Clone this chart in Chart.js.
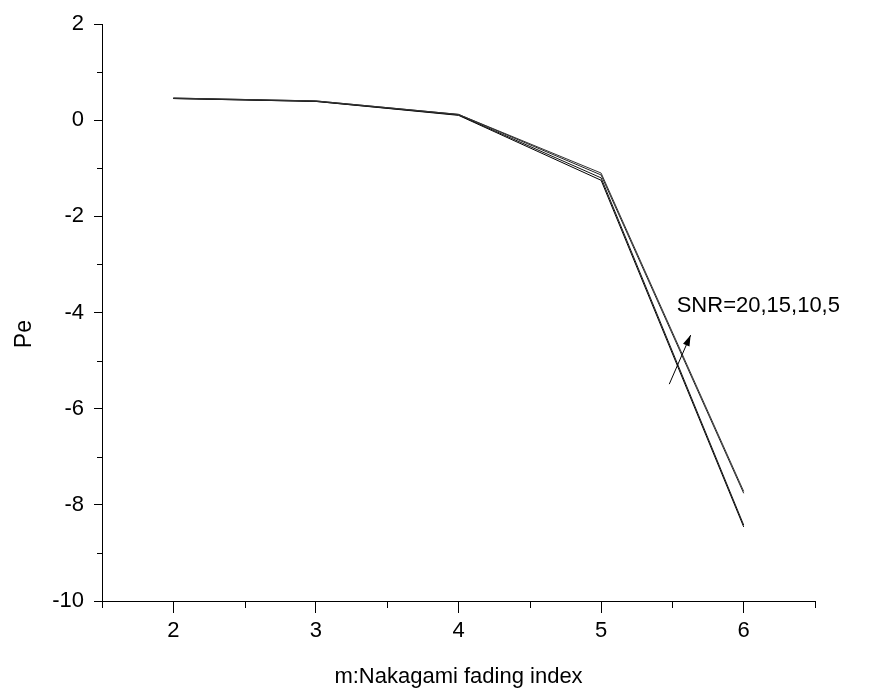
<!DOCTYPE html>
<html>
<head>
<meta charset="utf-8">
<title>Pe vs m</title>
<script src="https://cdn.jsdelivr.net/npm/chart.js@4/dist/chart.umd.min.js"></script>
<style>
body { margin: 0; background: #fff; }
</style>
</head>
<body>
<canvas id="peChart" width="876" height="691"></canvas>
<script>
"use strict";
// m values (x axis)
var mValues = [2, 3, 4, 5, 6];
var xTicks = [2, 3, 4, 5, 6];
var xMinor = [1.5, 2.5, 3.5, 4.5, 5.5, 6.5];
var yMinor = [-9, -7, -5, -3, -1, 1];
var snrNames = ["SNR=20", "SNR=15", "SNR=10", "SNR=5"];
// Pe
var pe20 = [0.46, 0.40, 0.12, -1.10, -7.72];
var pe15 = [0.46, 0.40, 0.12, -1.14, -7.76];
var pe10 = [0.45, 0.39, 0.11, -1.20, -8.42];
var pe5 = [0.45, 0.39, 0.10, -1.25, -8.46];
var noteText = "SNR=20,15,10,5";
var yTitle = "Pe";

var fontFam = "'Liberation Sans', Arial, sans-serif";

function toPoints(arr) {
    return arr.map(function (v, i) { return {x: mValues[i], y: v}; });
}

var lineColors = ["#333333", "#222222", "#111111", "#000000"];
var allSeries = [pe20, pe15, pe10, pe5];
var datasets = allSeries.map(function (s, i) {
    return {
        label: snrNames[i],
        data: toPoints(s),
        borderColor: lineColors[i],
        borderWidth: 1,
        pointRadius: 0,
        tension: 0,
        fill: false
    };
});

// minor ticks, y title + arrow annotation
var extras = {
    id: "extras",
    afterDraw: function (chart) {
        var ctx = chart.ctx;
        var xs = chart.scales.x, ys = chart.scales.y;
        var bottom = chart.chartArea.bottom, left = chart.chartArea.left;
        ctx.save();
        ctx.strokeStyle = "#000";
        ctx.lineWidth = 1;
        ctx.beginPath();
        xMinor.forEach(function (v) {
            var px = Math.round(xs.getPixelForValue(v)) + 0.5;
            ctx.moveTo(px, bottom);
            ctx.lineTo(px, bottom + 7);
        });
        yMinor.forEach(function (v) {
            var py = Math.round(ys.getPixelForValue(v)) + 0.5;
            ctx.moveTo(left, py);
            ctx.lineTo(left - 5, py);
        });
        ctx.stroke();

        // arrow
        var x0 = xs.getPixelForValue(5.478), y0 = ys.getPixelForValue(-5.49);
        var x1 = xs.getPixelForValue(5.628), y1 = ys.getPixelForValue(-4.47);
        ctx.beginPath();
        ctx.moveTo(x0, y0);
        ctx.lineTo(x1, y1);
        ctx.stroke();
        var ang = Math.atan2(y1 - y0, x1 - x0);
        var hl = 11, hw = 3.5;
        ctx.beginPath();
        ctx.moveTo(x1, y1);
        ctx.lineTo(x1 - hl * Math.cos(ang) + hw * Math.sin(ang), y1 - hl * Math.sin(ang) - hw * Math.cos(ang));
        ctx.lineTo(x1 - hl * Math.cos(ang) - hw * Math.sin(ang), y1 - hl * Math.sin(ang) + hw * Math.cos(ang));
        ctx.closePath();
        ctx.fillStyle = "#000";
        ctx.fill();

        ctx.font = "22px " + fontFam;
        ctx.textAlign = "left";
        ctx.textBaseline = "alphabetic";
        ctx.fillText(noteText, xs.getPixelForValue(5.53), ys.getPixelForValue(-3.99));

        // y axis title
        ctx.translate(25, ys.getPixelForValue(-4.45));
        ctx.rotate(-Math.PI / 2);
        ctx.font = "23px " + fontFam;
        ctx.textAlign = "center";
        ctx.textBaseline = "middle";
        ctx.fillText(yTitle, 0, 0);
        ctx.restore();
    }
};

var peChart = new Chart(document.getElementById("peChart"), {
    type: "line",
    data: {datasets: datasets},
    plugins: [extras],
    options: {
        responsive: false,
        animation: false,
        layout: {padding: {top: 24, right: 61, left: 0, bottom: 0}},
        plugins: {
            legend: {display: false},
            tooltip: {enabled: false}
        },
        scales: {
            x: {
                type: "linear",
                min: 1.5,
                max: 6.5,
                afterBuildTicks: function (scale) {
                    scale.ticks = xTicks.map(function (v) { return {value: v}; });
                },
                afterFit: function (scale) { scale.height = 90; },
                grid: {drawOnChartArea: false, color: "#000", tickLength: 12, lineWidth: 1},
                border: {display: true, color: "#000", width: 1},
                ticks: {color: "#000", font: {family: fontFam, size: 22}, padding: 5, maxRotation: 0},
                title: {
                    display: true,
                    text: "m:Nakagami fading index",
                    color: "#000",
                    font: {family: fontFam, size: 22},
                    padding: {top: 0, bottom: 1}
                }
            },
            y: {
                type: "linear",
                min: -10,
                max: 2,
                ticks: {stepSize: 2, color: "#000", font: {family: fontFam, size: 22}, padding: 10},
                afterFit: function (scale) { scale.width = 102; },
                grid: {drawOnChartArea: false, color: "#000", tickLength: 8, lineWidth: 1},
                border: {display: true, color: "#000", width: 1}
            }
        }
    }
});
</script>
</body>
</html>
